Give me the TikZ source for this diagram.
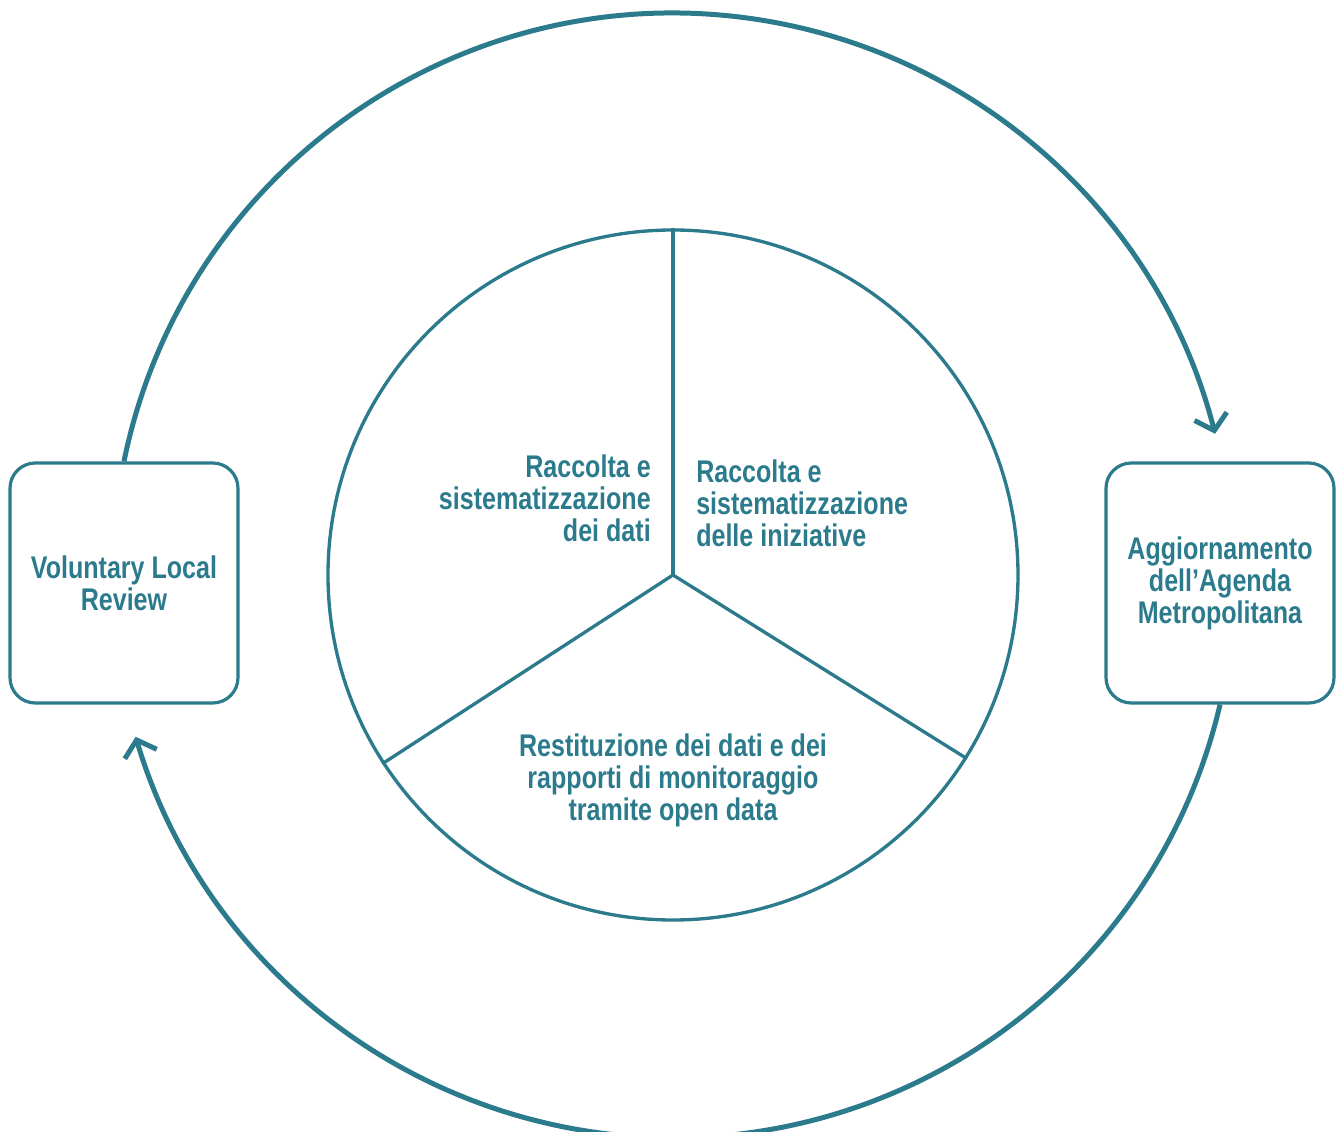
\documentclass[tikz,border=0pt]{standalone}
\usepackage{fontspec}
\setmainfont{Liberation Sans}[FakeStretch=0.8]
\usetikzlibrary{positioning,arrows.meta}
\definecolor{agteal}{HTML}{2B7B8D}
\tikzstyle{phase box}=[draw=agteal,line width=2.4pt,rounded corners=19pt,
  minimum width=171pt,minimum height=180pt,align=center,text=agteal,
  font=\bfseries\fontsize{23.5}{24}\selectfont]
\tikzstyle{cycle edge}=[-{Straight Barb[length=11pt,width=25pt,line width=3.75pt]},
  draw=agteal,line width=3.75pt]
\tikzstyle{wheel line}=[draw=agteal,line width=2.5pt]
\newcommand{\sectorlabel}[3][]{
  \node [text=agteal,inner sep=0pt,font=\bfseries\fontsize{23.5}{24}\selectfont,#1] (#2) {#3}
}

\begin{document}
\begin{tikzpicture}[x=0.75pt,y=0.75pt]
  \useasboundingbox (-673,-556) rectangle (664,575);
  \node [wheel line,circle,minimum size=517.5pt,inner sep=0pt] (wheel) at (0,0) {};
  \coordinate (hub) at (0,0);
  \draw[wheel line] (hub) -- (wheel.90);
  \draw[wheel line] (hub) -- (wheel.-32.5);
  \draw[wheel line] (hub) -- (wheel.213.5);
  \sectorlabel[align=right,anchor=east,at={(-22,77)}]{s1}{Raccolta e\\sistematizzazione\\dei dati};
  \sectorlabel[align=left,anchor=west,at={(23,72)}]{s2}{Raccolta e\\sistematizzazione\\delle iniziative};
  \sectorlabel[align=center,at={(0,-205)}]{s3}{Restituzione dei dati e dei\\rapporti di monitoraggio\\tramite open data};
  \node [phase box] (vlr) at (-549,-8) {Voluntary Local\\Review};
  \node [phase box] (agenda) at (547,-8) {Aggiornamento\\dell’Agenda\\Metropolitana};
  \draw[cycle edge] (vlr.north) arc[start angle=168.5,end angle=14.4,radius=420pt];
  \draw[cycle edge] (agenda.south) arc[start angle=-13.2,end angle=-163.4,radius=421pt];
\end{tikzpicture}
\end{document}
